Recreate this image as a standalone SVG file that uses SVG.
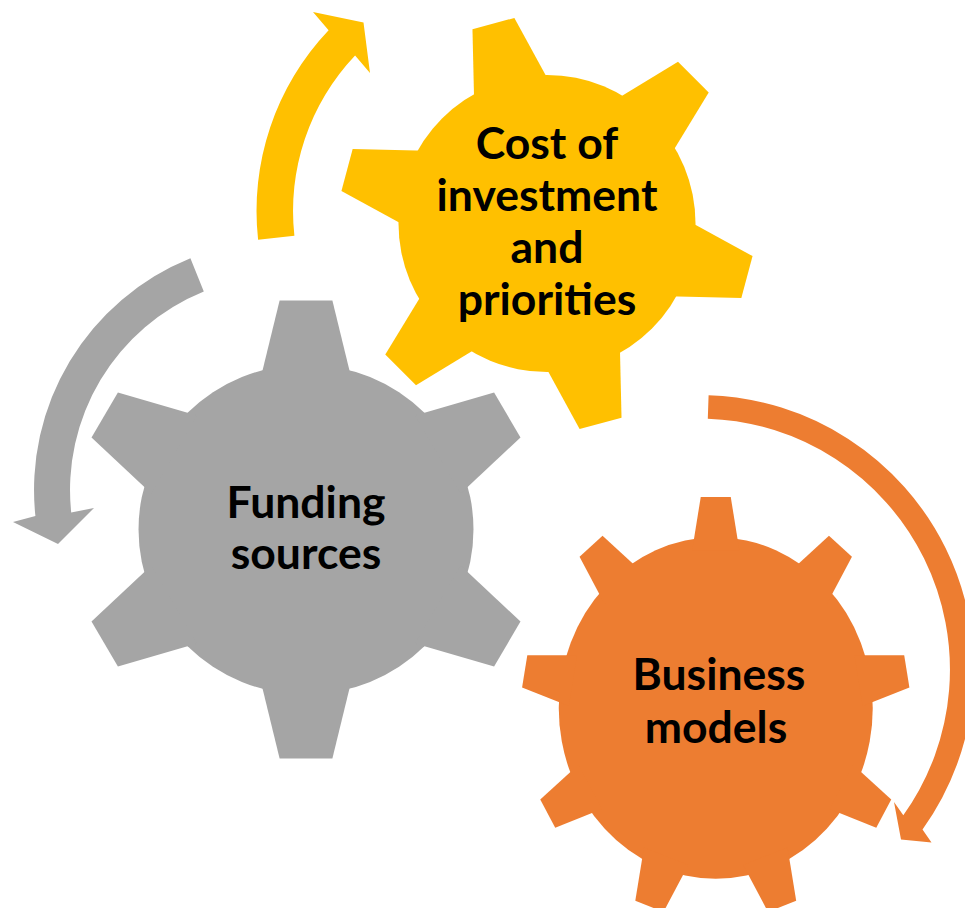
<svg xmlns="http://www.w3.org/2000/svg" xmlns:xlink="http://www.w3.org/1999/xlink" width="965" height="908" viewBox="0 0 965 908">
<defs>
<style>
.lbl{font-family:Lato,"Liberation Sans","DejaVu Sans",sans-serif;font-weight:700;font-size:44.5px;fill:#000;text-anchor:middle}
.gray{fill:#A5A5A5}
.yellow{fill:#FFC000}
.orange{fill:#ED7D31}
</style>
<polygon id="t6" points="-26,-229 26,-229 45,-150 -45,-150"/>
<polygon id="tY" points="-21.7,-207 21.7,-207 39.2,-135 -39.2,-135"/>
<polygon id="t9" points="-15,-194 15,-194 23.6,-145 -23.6,-145"/>
</defs>
<rect width="965" height="908" fill="#fff"/>
<g id="connectors">
<path id="arrow-yellow" class="yellow" d="M 258.1 239.8 A 262.5 262.5 0 0 1 328.6 30.3 L 313 12 L 363.5 22.5 L 370 73 L 355.1 55.4 A 226 226 0 0 0 294.4 235.8 Z"/>
<path id="arrow-gray" class="gray" d="M 190.4 258.2 A 250 250 0 0 0 35.4 516.1 L 13 522 L 58 544 L 94 508 L 71.2 512.4 A 214 214 0 0 1 203.8 291.6 Z"/>
<path id="arrow-orange" class="orange" d="M 708.6 395.2 A 274.5 274.5 0 0 1 922.5 829.5 L 931.5 842.5 L 901 839.5 L 894 802 L 903.3 815.3 A 251 251 0 0 0 707.8 418.7 Z"/>
</g>
<g id="cost-of-investment" class="yellow">
<g transform="translate(547,223.5)">
<circle r="148.5"/>
<use xlink:href="#tY" transform="rotate(-15)"/>
<use xlink:href="#tY" transform="rotate(45)"/>
<use xlink:href="#tY" transform="rotate(105)"/>
<use xlink:href="#tY" transform="rotate(165)"/>
<use xlink:href="#tY" transform="rotate(225)"/>
<use xlink:href="#tY" transform="rotate(285)"/>
</g>
<text class="lbl" x="547" y="159">Cost of</text>
<text class="lbl" x="547" y="211">investment</text>
<text class="lbl" x="547" y="263">and</text>
<text class="lbl" x="547" y="315">priorities</text>
</g>
<g id="funding-sources" class="gray">
<g transform="translate(306,529.5) scale(1.015,1)">
<circle r="165"/>
<use xlink:href="#t6"/>
<use xlink:href="#t6" transform="rotate(60)"/>
<use xlink:href="#t6" transform="rotate(120)"/>
<use xlink:href="#t6" transform="rotate(180)"/>
<use xlink:href="#t6" transform="rotate(240)"/>
<use xlink:href="#t6" transform="rotate(300)"/>
</g>
<text class="lbl" x="306" y="518">Funding</text>
<text class="lbl" x="306" y="569">sources</text>
</g>
<g id="business-models" class="orange">
<g transform="translate(715.75,708) scale(1,1.088)">
<circle r="157"/>
<use xlink:href="#t9"/>
<use xlink:href="#t9" transform="rotate(40)"/>
<use xlink:href="#t9" transform="rotate(80)"/>
<use xlink:href="#t9" transform="rotate(120)"/>
<use xlink:href="#t9" transform="rotate(160)"/>
<use xlink:href="#t9" transform="rotate(200)"/>
<use xlink:href="#t9" transform="rotate(240)"/>
<use xlink:href="#t9" transform="rotate(280)"/>
<use xlink:href="#t9" transform="rotate(320)"/>
</g>
<text class="lbl" x="719" y="690">Business</text>
<text class="lbl" x="716" y="743">models</text>
</g>
</svg>
